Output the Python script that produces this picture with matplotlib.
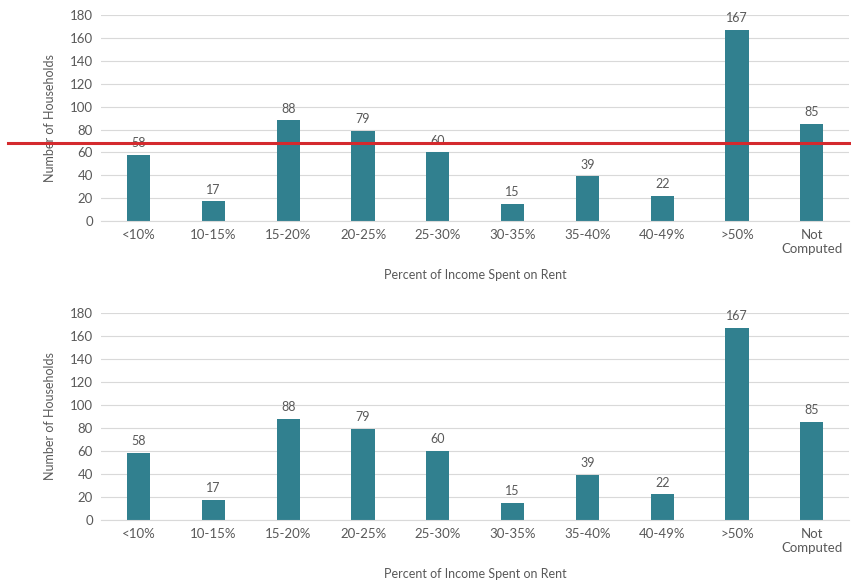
import matplotlib
matplotlib.use("Agg")
import matplotlib.pyplot as plt
import numpy as np

# data
categories = ["<10%", "10-15%", "15-20%", "20-25%", "25-30%", "30-35%",
              "35-40%", "40-49%", ">50%", "Not\nComputed"]
households = [58, 17, 88, 79, 60, 15, 39, 22, 167, 85]
yticks = [0, 20, 40, 60, 80, 100, 120, 140, 160, 180]
red_level = 68

plt.rcParams["font.family"] = ["Lato", "DejaVu Sans"]

bar_color = "#31808f"
text_color = "#595959"
grid_color = "#d9d9d9"


def draw_panel(ax):
    x = np.arange(len(categories))
    ax.bar(x, households, width=0.31, color=bar_color, zorder=2)
    for xi, v in zip(x, households):
        ax.text(xi, v + 5, str(v), ha="center", va="bottom",
                fontsize=9, color=text_color)
    ax.set_xlim(-0.5, len(categories) - 0.5)
    ax.set_ylim(0, 180)
    ax.set_yticks(yticks)
    ax.set_xticks(x)
    ax.set_xticklabels(categories)
    ax.yaxis.grid(True, color=grid_color, linewidth=0.8, zorder=0)
    ax.set_axisbelow(True)
    for s in ax.spines.values():
        s.set_visible(False)
    ax.spines["bottom"].set_visible(True)
    ax.spines["bottom"].set_color(grid_color)
    ax.tick_params(length=0, labelsize=9.5, colors=text_color, pad=6)
    ax.set_ylabel("Number of Households", fontsize=9, color=text_color,
                  labelpad=10)
    ax.set_xlabel("Percent of Income Spent on Rent", fontsize=9,
                  color=text_color, labelpad=10)


fig = plt.figure(figsize=(8.51, 5.86), dpi=100)
ax1 = fig.add_axes([0.119, 0.623, 0.879, 0.351])
ax2 = fig.add_axes([0.119, 0.113, 0.879, 0.353])
draw_panel(ax1)
draw_panel(ax2)

ax1.axhline(red_level, xmin=-0.125, xmax=1.01, color="#d42a2e",
            linewidth=2.2, clip_on=False, zorder=5)

fig.savefig("out.png", dpi=100)
